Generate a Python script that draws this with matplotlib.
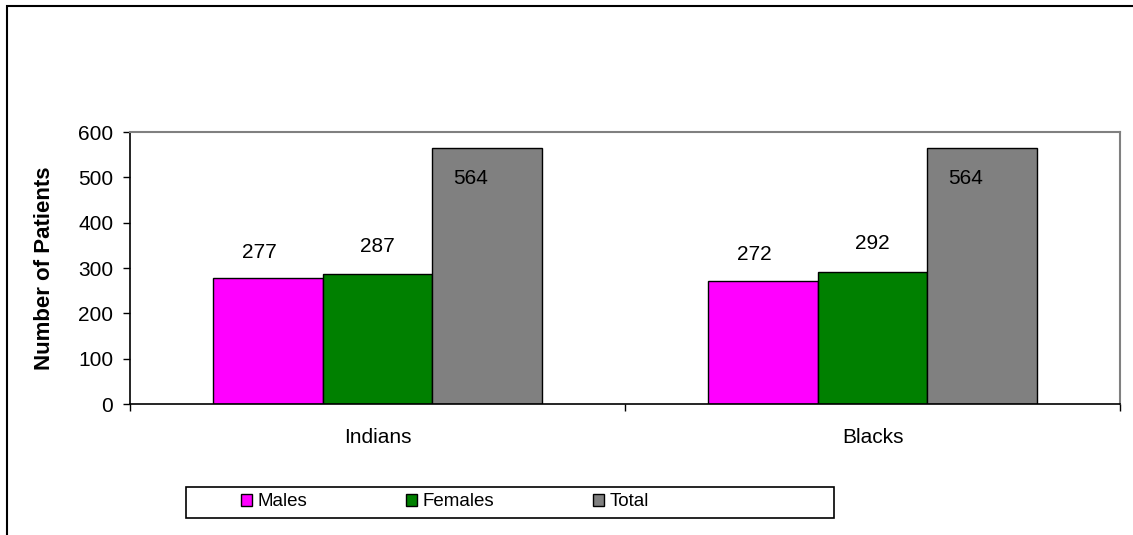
import matplotlib.pyplot as plt
import matplotlib.patches as patches
import numpy as np

groups = ['Indians', 'Blacks']
series = ['Males', 'Females', 'Total']
males = [277, 272]
females = [287, 292]
total = [564, 564]
colors = ['#FF00FF', '#008000', '#808080']

plt.rcParams['font.family'] = ['Liberation Sans', 'DejaVu Sans']

fig = plt.figure(figsize=(11.33, 5.35), dpi=100)
ax = fig.add_axes([130 / 1133, 1 - 404 / 535, 990 / 1133, 272 / 535])

x = np.arange(len(groups)) + 0.5
width = 0.2222
values = [males, females, total]
# label offsets in points (dx, dy) for each series
label_off = [(-6, 19), (0, 20), (-12, -22)]

for i, (name, vals, col) in enumerate(zip(series, values, colors)):
    pos = x + (i - 1) * width
    ax.bar(pos, vals, width, color=col, edgecolor='black', linewidth=1, label=name)
    for px, v in zip(pos, vals):
        ax.annotate(str(v), (px, v), xytext=label_off[i], textcoords='offset points',
                    ha='center', va='center', fontsize=15)

ax.set_xlim(0, 2)
ax.set_ylim(0, 600)
ax.set_yticks(range(0, 601, 100))
ax.set_xticks([0, 1, 2])
ax.set_xticklabels([])
ax.set_xticks(x, minor=True)
ax.set_xticklabels(groups, minor=True)
ax.tick_params(axis='x', which='minor', length=0, pad=17, labelsize=15)
ax.tick_params(axis='x', which='major', length=5, direction='out', width=1)
ax.tick_params(axis='y', length=5, direction='out', width=1, pad=7, labelsize=15)

for s in ['top', 'right']:
    ax.spines[s].set_color('#808080')
    ax.spines[s].set_linewidth(1.5)
for s in ['left', 'bottom']:
    ax.spines[s].set_color('black')
    ax.spines[s].set_linewidth(1.2)

ax.set_ylabel('Number of Patients', fontsize=16, fontweight='bold')
ax.yaxis.set_label_coords(-0.0758, 0.5)

# outer chart border (cut off at right and bottom)
fig.patches.append(patches.Rectangle((7 / 1133, -0.1), 1.2, 1 - 6 / 535 + 0.1,
                                     transform=fig.transFigure, fill=False,
                                     edgecolor='black', linewidth=1.5))
# legend box
fig.patches.append(patches.Rectangle((186 / 1133, 1 - 518 / 535), 648 / 1133, 31 / 535,
                                     transform=fig.transFigure, fill=False,
                                     edgecolor='black', linewidth=1.2))

leg = fig.legend(loc='center left', bbox_to_anchor=(232 / 1133, 1 - 502 / 535),
                 ncol=3, frameon=False, fontsize=13.5, handlelength=0.55, handleheight=0.55,
                 handletextpad=0.3, columnspacing=5.3, borderpad=0)

fig.savefig('out.png', dpi=100)
